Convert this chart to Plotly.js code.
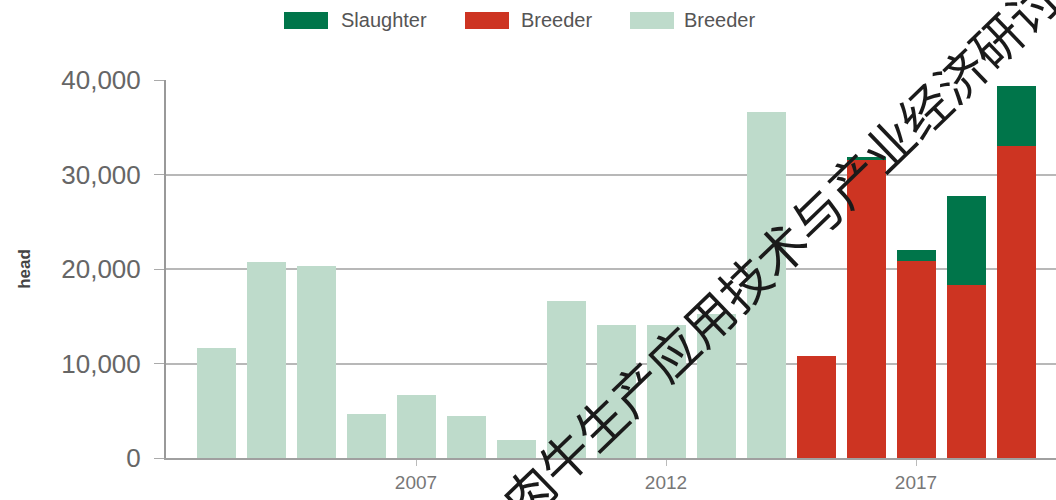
<!DOCTYPE html>
<html>
<head>
<meta charset="utf-8">
<script src="https://cdn.plot.ly/plotly-3.0.1.min.js"></script>
<style>html,body{margin:0;padding:0;background:#fff;}#chart{width:1056px;height:500px;}</style>
</head>
<body>
<div id="chart"></div>
<script>
// ---- data ----
var years = [2003, 2004, 2005, 2006, 2007, 2008, 2009, 2010, 2011, 2012, 2013, 2014, 2015, 2016, 2017, 2018, 2019];
var breederEarly = [11600, 20700, 20300, 4700, 6700, 4450, 1900, 16600, 14100, 14100, 15200, 36600, null, null, null, null, null];
var breederLate = [null, null, null, null, null, null, null, null, null, null, null, null, 10750, 31500, 20900, 18300, 33050];
var slaughter = [null, null, null, null, null, null, null, null, null, null, null, null, null, 300, 1150, 9450, 6300];
var seriesNames = ['Slaughter', 'Breeder', 'Breeder'];
var yTickVals = [0, 10000, 20000, 30000, 40000];
var yTickText = ['0', '10,000', '20,000', '30,000', '40,000'];
var xTickVals = [2007, 2012, 2017];
var xTickText = ['2007', '2012', '2017'];
var yTitle = 'head';
var watermark = '肉牛生产应用技术与产业经济研讨会';

var colors = ['#00754a', '#cd3422', '#bedbcb'];

var traces = [
  {type: 'bar', x: years, y: breederEarly, name: seriesNames[2], marker: {color: colors[2]}, hoverinfo: 'x+y+name'},
  {type: 'bar', x: years, y: breederLate, name: seriesNames[1], marker: {color: colors[1]}, hoverinfo: 'x+y+name'},
  {type: 'bar', x: years, y: slaughter, name: seriesNames[0], marker: {color: colors[0]}, hoverinfo: 'x+y+name'}
];

// custom legend (wide swatches like the reference)
var L = 166, R = 1056, T = 80, B = 458;
function px(x) { return (x - L) / (R - L); }
function py(y) { return (B - y) / (B - T); }
var legendItems = [
  {sw: 284, tx: 339, name: seriesNames[0], color: colors[0]},
  {sw: 465, tx: 519, name: seriesNames[1], color: colors[1]},
  {sw: 630, tx: 682, name: seriesNames[2], color: colors[2]}
];
var shapes = [];
var annotations = [];
legendItems.forEach(function (it) {
  shapes.push({type: 'rect', xref: 'paper', yref: 'paper', x0: px(it.sw), x1: px(it.sw + 44), y0: py(29), y1: py(12), fillcolor: it.color, line: {width: 0}});
  annotations.push({xref: 'paper', yref: 'paper', x: px(it.tx), y: py(20.5), xanchor: 'left', yanchor: 'middle', text: it.name, showarrow: false, font: {family: 'Liberation Sans, Arial, sans-serif', size: 20, color: '#555'}});
});
annotations.push({xref: 'paper', yref: 'paper', x: px(797), y: py(230), xanchor: 'center', yanchor: 'middle', text: watermark, textangle: -44, showarrow: false, font: {family: 'Noto Sans CJK SC, sans-serif', size: 50, color: '#1a1a1a'}});

var layout = {
  width: 1056, height: 500,
  margin: {l: L, r: 0, t: T, b: 500 - B, pad: 0},
  paper_bgcolor: '#fff', plot_bgcolor: '#fff',
  barmode: 'stack', bargap: 0.22,
  showlegend: false,
  font: {family: 'Liberation Sans, Arial, sans-serif', color: '#666'},
  xaxis: {
    range: [2002, 2019.8], tickmode: 'array', tickvals: xTickVals, ticktext: xTickText,
    ticks: 'outside', ticklen: 6, tickcolor: '#bbb', tickwidth: 1,
    showgrid: false, zeroline: false, showline: true, linecolor: '#a0a0a0', linewidth: 2,
    tickfont: {size: 19, color: '#777'}, fixedrange: true
  },
  yaxis: {
    range: [0, 40000], tickmode: 'array', tickvals: yTickVals, ticktext: yTickText,
    ticks: 'outside', ticklen: 10, tickcolor: '#aaa', tickwidth: 1,
    ticklabelstandoff: 8,
    showgrid: true, gridcolor: '#b8b8b8', gridwidth: 2,
    zeroline: false, showline: true, linecolor: '#999', linewidth: 2,
    tickfont: {size: 26, color: '#666'},
    title: {text: yTitle, standoff: 26, font: {size: 17, color: '#444', weight: 'bold'}},
    automargin: false, fixedrange: true
  },
  shapes: shapes,
  annotations: annotations
};

Plotly.newPlot('chart', traces, layout, {displayModeBar: false, staticPlot: true});
</script>
</body>
</html>
